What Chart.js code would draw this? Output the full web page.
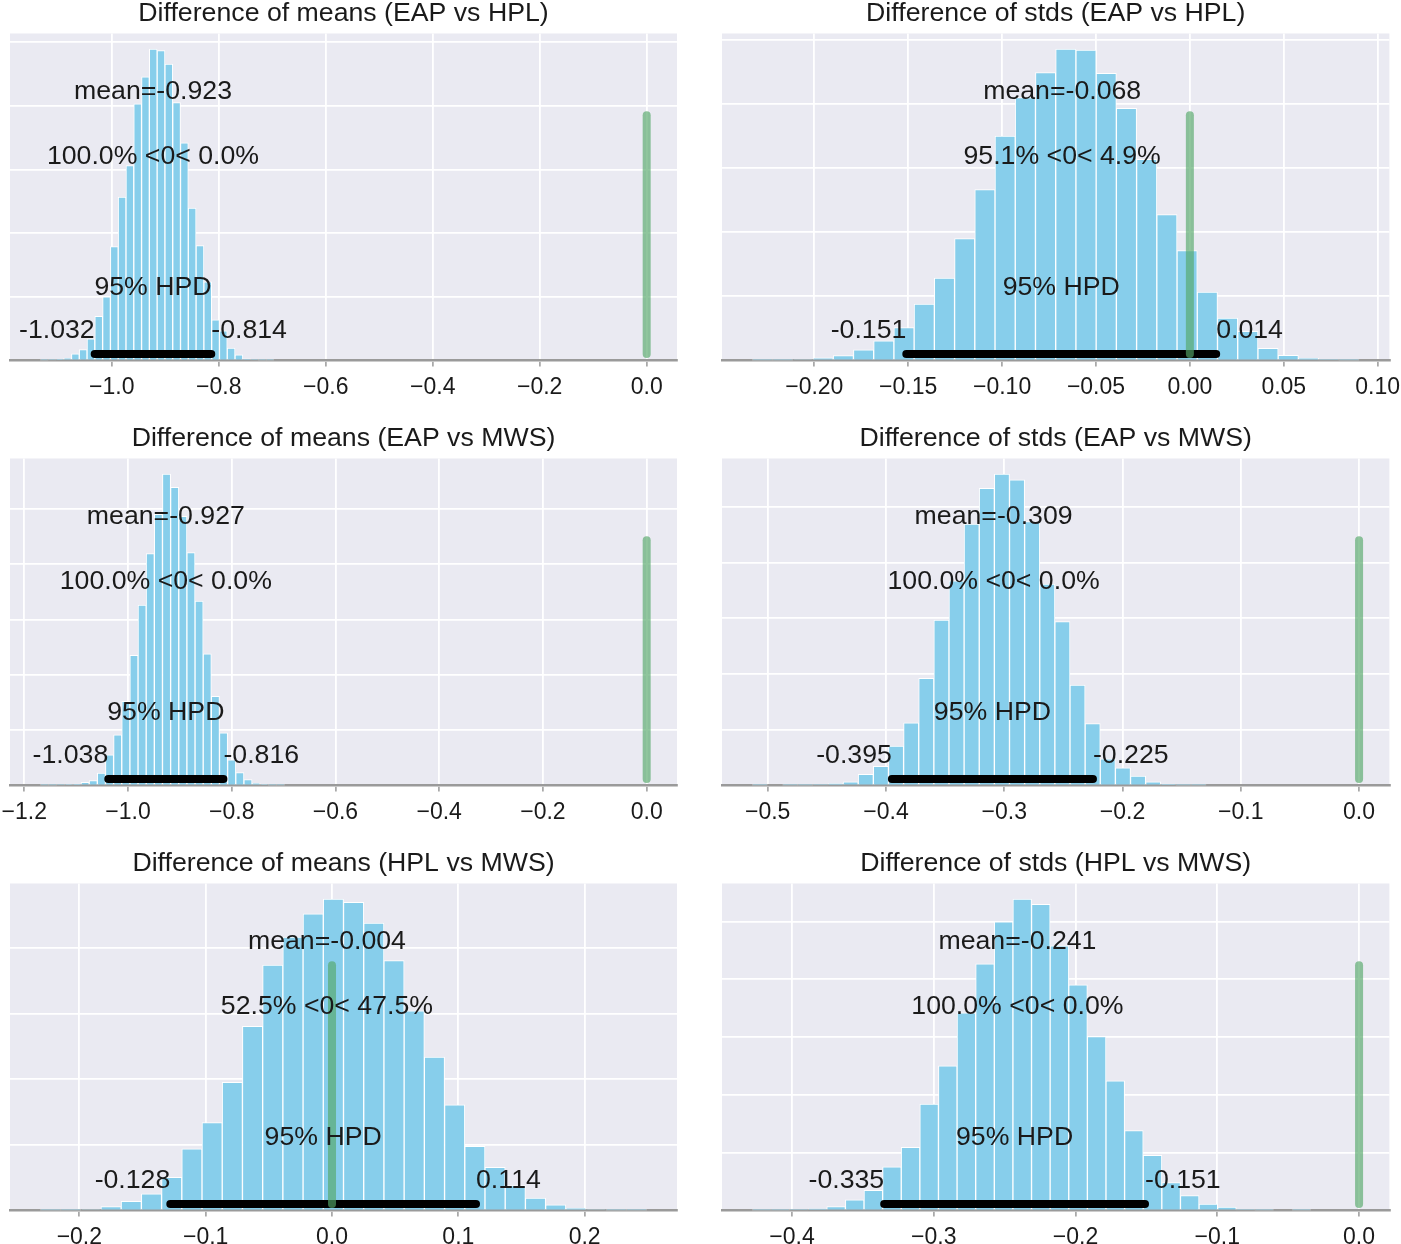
<!DOCTYPE html>
<html>
<head>
<meta charset="utf-8">
<script src="https://cdn.jsdelivr.net/npm/chart.js@4.4.1/dist/chart.umd.min.js"></script>
<style>
html, body { margin: 0; padding: 0; background: #ffffff; }
body { width: 1401px; height: 1244px; position: relative; overflow: hidden; }
.panel { position: absolute; }
.panel canvas { display: block; }
</style>
</head>
<body>
<div id="wrap"></div>
<script>
// ---------------- data ----------------
const titles = [
  'Difference of means (EAP vs HPL)', 'Difference of stds (EAP vs HPL)',
  'Difference of means (EAP vs MWS)', 'Difference of stds (EAP vs MWS)',
  'Difference of means (HPL vs MWS)', 'Difference of stds (HPL vs MWS)'
];

// histogram counts (30 bins each)
const countsMeansEapHpl = [1,2,4,7,21,34,68,139,200,358,514,613,807,892,979,974,932,811,684,479,361,247,128,93,39,18,5,2,1,1];
const countsStdsEapHpl  = [1,1,3,8,15,33,61,103,176,257,380,533,700,820,898,971,968,895,786,627,455,343,213,132,91,38,16,7,2,1];
const countsMeansEapMws = [1,1,2,4,5,11,18,45,111,183,304,470,652,838,980,1125,1077,972,841,666,476,322,190,93,47,21,8,4,1,1];
const countsStdsEapMws  = [1,0,1,1,2,7,13,40,69,141,225,384,593,734,938,1066,1117,1096,947,722,588,360,222,96,63,34,13,5,1,1];
const countsMeansHplMws = [1,1,3,12,28,51,101,188,268,391,562,749,834,905,950,940,877,762,609,468,322,196,132,76,38,17,7,3,1,1];
const countsStdsHplMws  = [1,1,2,6,14,37,70,151,219,368,501,684,854,999,1078,1060,916,781,602,449,277,191,97,52,22,12,2,1,0,1];
const countSeries = [countsMeansEapHpl, countsStdsEapHpl, countsMeansEapMws, countsStdsEapMws, countsMeansHplMws, countsStdsHplMws];

// left edge of first bin and bin width
const binStarts = [-1.1336, -0.2330, -1.1690, -0.5130, -0.2309, -0.4280];
const binWidths = [0.01456, 0.01077, 0.01570, 0.01279, 0.01600, 0.01313];

const means     = [-0.923, -0.068, -0.927, -0.309, -0.004, -0.241];
const refLabels = ['100.0% <0< 0.0%', '95.1% <0< 4.9%', '100.0% <0< 0.0%', '100.0% <0< 0.0%', '52.5% <0< 47.5%', '100.0% <0< 0.0%'];
const hpdLow    = [-1.032, -0.151, -1.038, -0.395, -0.128, -0.335];
const hpdHigh   = [-0.814,  0.014, -0.816, -0.225,  0.114, -0.151];
const refValue  = 0;

const tickValues = [
  [-1.0, -0.8, -0.6, -0.4, -0.2, 0.0],
  [-0.20, -0.15, -0.10, -0.05, 0.00, 0.05, 0.10],
  [-1.2, -1.0, -0.8, -0.6, -0.4, -0.2, 0.0],
  [-0.5, -0.4, -0.3, -0.2, -0.1, 0.0],
  [-0.2, -0.1, 0.0, 0.1, 0.2],
  [-0.4, -0.3, -0.2, -0.1, 0.0]
];
const tickLabels = [
  ['\u22121.0', '\u22120.8', '\u22120.6', '\u22120.4', '\u22120.2', '0.0'],
  ['\u22120.20', '\u22120.15', '\u22120.10', '\u22120.05', '0.00', '0.05', '0.10'],
  ['\u22121.2', '\u22121.0', '\u22120.8', '\u22120.6', '\u22120.4', '\u22120.2', '0.0'],
  ['\u22120.5', '\u22120.4', '\u22120.3', '\u22120.2', '\u22120.1', '0.0'],
  ['\u22120.2', '\u22120.1', '0.0', '0.1', '0.2'],
  ['\u22120.4', '\u22120.3', '\u22120.2', '\u22120.1', '0.0']
];
const yGridStep = 200;

// ---------------- styling ----------------
const FONT = '"Liberation Sans", Arial, Helvetica, sans-serif';
const TEXT = '#1a1a1a';
const BG = '#eaeaf2';
const BAR = '#87ceeb';
const REF_GREEN = 'rgba(85,168,104,0.65)';
const ANNOT_SIZE = 26.7;
const TICK_SIZE = 23;
const CANVAS_H = 425;
const TITLE_H = 33.5;
const PLOT_H = 327;

Chart.defaults.font.family = FONT;
Chart.defaults.color = TEXT;

const bgPlugin = {
  id: 'plotBg',
  beforeDraw(chart) {
    const a = chart.chartArea, ctx = chart.ctx;
    ctx.save();
    ctx.fillStyle = BG;
    ctx.fillRect(a.left, a.top, a.right - a.left, a.bottom - a.top);
    ctx.restore();
  }
};

const annotPlugin = {
  id: 'annot',
  afterDatasetsDraw(chart, args, opts) {
    const ctx = chart.ctx, x = chart.scales.x, y = chart.scales.y;
    const ymax = y.max;
    ctx.save();
    ctx.fillStyle = TEXT;
    ctx.font = ANNOT_SIZE + 'px ' + FONT;
    ctx.textBaseline = 'alphabetic';
    const put = (txt, xv, frac, align) => {
      ctx.textAlign = align;
      ctx.fillText(txt, x.getPixelForValue(xv), y.getPixelForValue(frac * ymax));
    };
    put(opts.meanLabel, opts.mean, 0.8, 'center');
    put(opts.refLabel, opts.mean, 0.6, 'center');
    put('95% HPD', (opts.lo + opts.hi) / 2, 0.2, 'center');
    put(String(opts.lo), opts.lo, 0.07, 'right');
    put(String(opts.hi), opts.hi, 0.07, 'left');
    ctx.restore();
  }
};

const wrap = document.getElementById('wrap');

for (let i = 0; i < 6; i++) {
  const col = i % 2, row = Math.floor(i / 2);
  const cw = col ? 701 : 700;
  const div = document.createElement('div');
  div.className = 'panel';
  div.style.left = (col ? 700 : 0) + 'px';
  div.style.top = (row * 425) + 'px';
  div.style.width = cw + 'px';
  div.style.height = CANVAS_H + 'px';
  const cv = document.createElement('canvas');
  cv.width = cw; cv.height = CANVAS_H;
  cv.style.width = cw + 'px'; cv.style.height = CANVAS_H + 'px';
  div.appendChild(cv);
  wrap.appendChild(div);

  const counts = countSeries[i];
  const start = binStarts[i], w = binWidths[i];
  const centers = counts.map((_, k) => start + (k + 0.5) * w);
  const ymax = Math.max(...counts) * 1.05;
  const lo = Math.min(start, refValue), hi = Math.max(start + counts.length * w, refValue);
  const m = 0.05 * (hi - lo);
  const ticks = tickValues[i], labels = tickLabels[i];

  new Chart(cv.getContext('2d'), {
    type: 'bar',
    data: {
      datasets: [
        {
          type: 'bar',
          data: counts.map((c, k) => ({ x: centers[k], y: c })),
          backgroundColor: BAR,
          borderColor: '#ffffff',
          borderWidth: 1,
          borderSkipped: 'start',
          barPercentage: 1,
          categoryPercentage: 1,
          grouped: false,
          order: 3
        },
        {
          type: 'line',
          data: [{ x: hpdLow[i], y: 0.02 * ymax }, { x: hpdHigh[i], y: 0.02 * ymax }],
          borderColor: '#000000',
          borderWidth: 8,
          borderCapStyle: 'round',
          pointRadius: 0,
          fill: false,
          order: 2
        },
        {
          type: 'line',
          data: [{ x: refValue, y: 0.02 * ymax }, { x: refValue, y: 0.75 * ymax }],
          borderColor: REF_GREEN,
          borderWidth: 8,
          borderCapStyle: 'round',
          pointRadius: 0,
          fill: false,
          order: 1
        }
      ]
    },
    options: {
      responsive: false,
      animation: false,
      devicePixelRatio: 1,
      events: [],
      layout: { padding: { left: col ? 22 : 10, right: col ? 11.6 : 23, top: 0, bottom: 0 } },
      scales: {
        x: {
          type: 'linear',
          offset: false,
          min: lo - m,
          max: hi + m,
          afterBuildTicks(scale) { scale.ticks = ticks.map(v => ({ value: v })); },
          afterFit(scale) {
            scale.height = CANVAS_H - TITLE_H - PLOT_H;
            scale.paddingLeft = 0; scale.paddingRight = 0;
          },
          ticks: {
            autoSkip: false,
            maxRotation: 0,
            padding: 7,
            color: TEXT,
            font: { size: TICK_SIZE, family: FONT },
            callback: (v, idx) => labels[idx]
          },
          grid: { offset: false, color: '#ffffff', lineWidth: 1.8, tickColor: '#9a9a9a', tickLength: 6, tickWidth: 1.5 },
          border: { display: true, color: '#9a9a9a', width: 2.5 }
        },
        y: {
          type: 'linear',
          min: 0,
          max: ymax,
          afterBuildTicks(scale) {
            const t = [];
            for (let v = 0; v <= ymax; v += yGridStep) t.push({ value: v });
            scale.ticks = t;
          },
          afterFit(scale) { scale.width = 0; scale.paddingTop = 0; scale.paddingBottom = 0; },
          ticks: { display: false },
          grid: { color: '#ffffff', lineWidth: 1.8, drawTicks: false },
          border: { display: false }
        }
      },
      plugins: {
        legend: { display: false },
        tooltip: { enabled: false },
        title: {
          display: true,
          text: titles[i],
          color: TEXT,
          font: { size: ANNOT_SIZE, family: FONT, weight: 'normal', lineHeight: 1 },
          padding: { top: 0, bottom: TITLE_H - ANNOT_SIZE }
        },
        annot: {
          mean: means[i],
          meanLabel: 'mean=' + means[i].toFixed(3),
          refLabel: refLabels[i],
          lo: hpdLow[i],
          hi: hpdHigh[i]
        }
      }
    },
    plugins: [bgPlugin, annotPlugin]
  });
}
</script>
</body>
</html>
